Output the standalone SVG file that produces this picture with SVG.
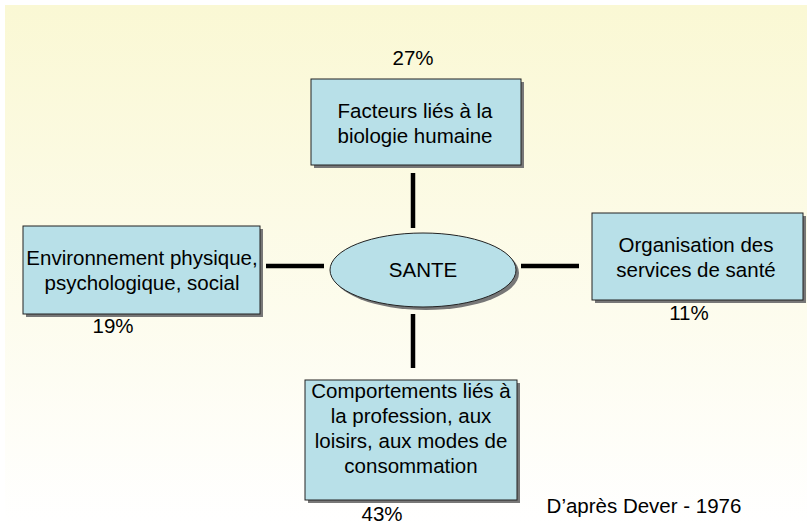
<svg xmlns="http://www.w3.org/2000/svg" width="807" height="525" viewBox="0 0 807 525">
<defs>
<linearGradient id="bg" x1="0" y1="0" x2="0" y2="1">
<stop offset="0" stop-color="#FAF8D4"/>
<stop offset="1" stop-color="#FFFFFF"/>
</linearGradient>
<style>
.box{fill:#B8E0E8;stroke:#222;stroke-width:1}
.sh{fill:#777}
.t{font-family:"Liberation Sans",Arial,sans-serif;font-size:20.5px;fill:#000;text-anchor:middle}
.c{stroke:#000;stroke-width:4.5;fill:none}
</style>
</defs>
<rect width="807" height="525" fill="#FFFFFF"/>
<rect x="5" y="5" width="802" height="520" fill="url(#bg)"/>
<g id="connectors">
<line class="c" x1="413" y1="173" x2="413" y2="228"/>
<line class="c" x1="413" y1="314" x2="413" y2="368"/>
<line class="c" x1="266" y1="266" x2="324" y2="266"/>
<line class="c" x1="521" y1="266" x2="579" y2="266"/>
</g>
<g id="sante">
<ellipse class="sh" cx="426" cy="273" rx="93" ry="37"/>
<ellipse class="box" cx="423" cy="270" rx="93" ry="37"/>
<text class="t" x="423" y="277">SANTE</text>
</g>
<g id="biologie">
<rect class="sh" x="314" y="82" width="210" height="86"/>
<rect class="box" x="311" y="79" width="210" height="86"/>
<text class="t" x="415" y="118">Facteurs liés à la</text>
<text class="t" x="415" y="143">biologie humaine</text>
<text class="t" x="413" y="65">27%</text>
</g>
<g id="environnement">
<rect class="sh" x="26" y="229" width="237" height="88"/>
<rect class="box" x="23" y="226" width="237" height="88"/>
<text class="t" x="142" y="265">Environnement physique,</text>
<text class="t" x="142" y="290">psychologique, social</text>
<text class="t" x="113" y="333">19%</text>
</g>
<g id="organisation">
<rect class="sh" x="595" y="216" width="211" height="87"/>
<rect class="box" x="592" y="213" width="211" height="87"/>
<text class="t" x="696" y="252">Organisation des</text>
<text class="t" x="696" y="277">services de santé</text>
<text class="t" x="689" y="320">11%</text>
</g>
<g id="comportements">
<rect class="sh" x="308" y="383" width="212" height="120"/>
<rect class="box" x="305" y="380" width="212" height="120"/>
<text class="t" x="411" y="398">Comportements liés à</text>
<text class="t" x="411" y="423">la profession, aux</text>
<text class="t" x="411" y="448">loisirs, aux modes de</text>
<text class="t" x="411" y="473">consommation</text>
<text class="t" x="382" y="521">43%</text>
</g>
<text class="t" x="644" y="513">D’après Dever - 1976</text>
</svg>
